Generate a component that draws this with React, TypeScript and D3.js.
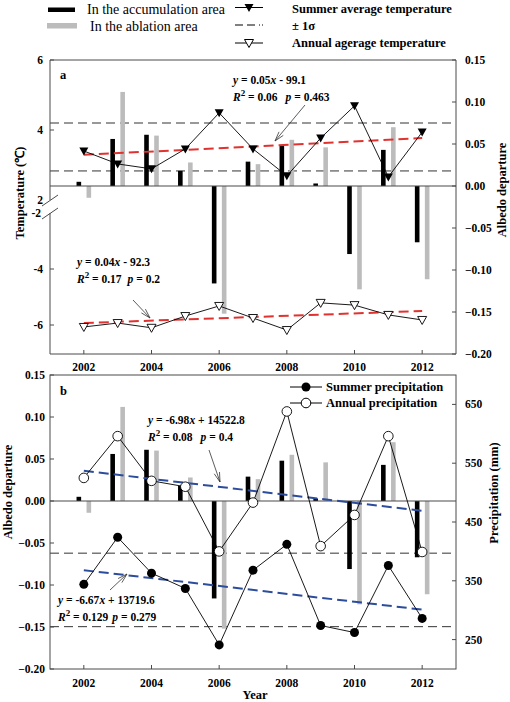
import React from "react";
import * as d3 from "d3";

// ---------------- data ----------------
const years = [2002, 2003, 2004, 2005, 2006, 2007, 2008, 2009, 2010, 2011, 2012];
const yearTicks = [2002, 2004, 2006, 2008, 2010, 2012];

// albedo departure (bars)
const accumAlbedo = [0.005, 0.056, 0.061, 0.018, -0.116, 0.029, 0.048, 0.003, -0.081, 0.043, -0.067];
const ablationAlbedo = [-0.014, 0.112, 0.06, 0.028, -0.152, 0.026, 0.055, 0.046, -0.123, 0.07, -0.111];

// temperature (panel a)
const summerTemp = [3.4, 3.03, 2.89, 3.46, 4.49, 3.46, 2.69, 3.77, 4.69, 2.66, 3.94];
const annualTemp = [-6.07, -5.93, -6.1, -5.68, -5.32, -5.75, -6.18, -5.21, -5.29, -5.64, -5.82];
const summerTempTrend = [3.29, 3.77];
const annualTempTrend = [-5.93, -5.5];
const summerTempSigma = [2.83, 4.2];

// precipitation (panel b)
const annualPrecip = [525, 596, 520, 510, 400, 483, 638, 409, 462, 596, 399];
const summerPrecip = [344, 424, 363, 337, 241, 368, 412, 274, 262, 376, 286];
const annualPrecipTrend = [537, 469];
const summerPrecipTrend = [368, 301];
const precipSigma = [272, 397];

// tick labels
const albedoTicks = [0.15, 0.1, 0.05, 0.0, -0.05, -0.1, -0.15, -0.2];
const tempUpperTicks = [6, 4];
const tempLowerTicks = [-4, -6];
const precipTicks = [250, 350, 450, 550, 650];

// ---------------- layout ----------------
const W = 510;
const H = 702;
const L = 50;
const R = 456;
const FONT = "'Liberation Serif', 'Times New Roman', serif";
const AXIS = "#4a4a4a";
const GREY = "#bcbcbc";
const RED = "#e0332f";
const BLUE = "#2c4c9c";

const x = d3.scaleLinear().domain([2001, 2013]).range([L, R]);

// panel a
const aTop = 60;
const aBot = 354;
const albA = d3.scaleLinear().domain([-0.2, 0.15]).range([aBot, aTop]);
const tUp = d3.scaleLinear().domain([2, 6]).range([200, aTop]);
const tLo = d3.scaleLinear().domain([-7, -2]).range([353, 213]);

// panel b
const bTop = 375;
const bBot = 669;
const albB = d3.scaleLinear().domain([-0.2, 0.15]).range([bBot, bTop]);
const prB = d3.scaleLinear().domain([200, 700]).range([bBot, bTop]);

function arrow(x1: number, y1: number, x2: number, y2: number) {
  const a = Math.atan2(y2 - y1, x2 - x1);
  const len = 10;
  const sp = 0.28;
  const b1x = x2 - len * Math.cos(a - sp);
  const b1y = y2 - len * Math.sin(a - sp);
  const b2x = x2 - len * Math.cos(a + sp);
  const b2y = y2 - len * Math.sin(a + sp);
  return `M${x1},${y1}L${x2},${y2}M${b1x},${b1y}L${x2},${y2}L${b2x},${b2y}`;
}

function downTri(cx: number, cy: number) {
  return `M${cx - 4.5},${cy - 3.5}L${cx + 4.5},${cy - 3.5}L${cx},${cy + 4.5}Z`;
}

const fmt2 = d3.format(".2f");

function Bars({ scale }: { scale: d3.ScaleLinear<number, number> }) {
  const z = scale(0);
  return (
    <g>
      {years.map((yr, i) => {
        const v = accumAlbedo[i];
        const y = scale(v);
        return <rect key={"k" + yr} x={x(yr) - 7.3} y={Math.min(y, z)} width={4.6} height={Math.abs(y - z)} fill="#000" />;
      })}
      {years.map((yr, i) => {
        const v = ablationAlbedo[i];
        const y = scale(v);
        return <rect key={"g" + yr} x={x(yr) + 2.7} y={Math.min(y, z)} width={4.6} height={Math.abs(y - z)} fill={GREY} />;
      })}
    </g>
  );
}

function Eq({ x0, y0, a, b, r2, p, gap }: { x0: number; y0: number; a: string; b: string; r2: string; p: string; gap: number }) {
  return (
    <g fontFamily={FONT} fontWeight="bold" fontSize={11.5} fill="#000">
      <text x={x0} y={y0}>
        <tspan fontStyle="italic">y</tspan>
        {` = ${a}`}
        <tspan fontStyle="italic">x</tspan>
        {` ${b}`}
      </text>
      <text x={x0} y={y0 + 17}>
        <tspan fontStyle="italic">R</tspan>
        <tspan dy={-5} fontSize={9}>2</tspan>
        <tspan dy={5}>{` = ${r2}`}</tspan>
        <tspan dx={gap} fontStyle="italic">p</tspan>
        <tspan>{` = ${p}`}</tspan>
      </text>
    </g>
  );
}

function YearAxis({ y0, labelY }: { y0: number; labelY: number }) {
  return (
    <g>
      {yearTicks.map((t) => (
        <g key={t}>
          <line x1={x(t)} x2={x(t)} y1={y0} y2={y0 - 4} stroke={AXIS} />
          <text x={x(t)} y={labelY} textAnchor="middle" fontFamily={FONT} fontWeight="bold" fontSize={11.5}>
            {t}
          </text>
        </g>
      ))}
    </g>
  );
}

export default function App() {
  const lineA = d3.line<number>().x((_, i) => x(years[i])).y((d) => tUp(d));
  const lineALo = d3.line<number>().x((_, i) => x(years[i])).y((d) => tLo(d));
  const lineP = d3.line<number>().x((_, i) => x(years[i])).y((d) => prB(d));
  const x0 = years[0];
  const x1 = years[years.length - 1];

  return (
    <svg width={W} height={H} style={{ position: "absolute", left: 0, top: 0, background: "#fff" }} fontFamily={FONT}>
      <rect x={0} y={0} width={W} height={H} fill="#fff" />

      {/* ---------- top legend ---------- */}
      <rect x={48} y={7.5} width={27} height={4.5} fill="#000" />
      <rect x={47} y={23} width={30} height={5.5} fill={GREY} />
      <text x={87} y={14} fontSize={14}>In the accumulation area</text>
      <text x={90} y={31} fontSize={14}>In the ablation area</text>
      <line x1={235} x2={263} y1={7.5} y2={7.5} stroke="#000" />
      <path d={downTri(249, 7.5)} fill="#000" />
      <line x1={235} x2={263} y1={25} y2={25} stroke="#000" strokeDasharray="8,4,8,4,1,2" />
      <line x1={235} x2={263} y1={43} y2={43} stroke="#000" />
      <path d={downTri(249, 43)} fill="#fff" stroke="#000" />
      <g fontWeight="bold" fontSize={12.5}>
        <text x={292} y={13}>Summer average temperature</text>
        <text x={292} y={30}>± 1σ</text>
        <text x={292} y={47}>Annual agerage temperature</text>
      </g>

      {/* ---------- panel a ---------- */}
      {summerTempSigma.map((s) => (
        <line key={s} x1={L} x2={R} y1={tUp(s)} y2={tUp(s)} stroke="#333" strokeDasharray="9,5" />
      ))}
      <Bars scale={albA} />
      <line x1={L} x2={R} y1={albA(0)} y2={albA(0)} stroke={AXIS} strokeWidth={1.2} />
      <line x1={x(x0)} x2={x(x1)} y1={tUp(summerTempTrend[0])} y2={tUp(summerTempTrend[1])} stroke={RED} strokeWidth={2} strokeDasharray="10,5" />
      <line x1={x(x0)} x2={x(x1)} y1={tLo(annualTempTrend[0])} y2={tLo(annualTempTrend[1])} stroke={RED} strokeWidth={2} strokeDasharray="10,5" />
      <path d={lineA(summerTemp) || ""} fill="none" stroke="#000" strokeWidth={0.9} />
      {summerTemp.map((t, i) => (
        <path key={i} d={downTri(x(years[i]), tUp(t))} fill="#000" />
      ))}
      <path d={lineALo(annualTemp) || ""} fill="none" stroke="#000" strokeWidth={0.9} />
      {annualTemp.map((t, i) => (
        <path key={i} d={downTri(x(years[i]), tLo(t))} fill="#fff" stroke="#000" strokeWidth={0.9} />
      ))}

      {/* frame a */}
      <line x1={L} x2={R} y1={aTop} y2={aTop} stroke={AXIS} />
      <line x1={L} x2={R} y1={aBot} y2={aBot} stroke={AXIS} />
      <line x1={R} x2={R} y1={aTop} y2={aBot} stroke={AXIS} />
      <line x1={L} x2={L} y1={aTop} y2={tUp(2)} stroke={AXIS} />
      <line x1={L} x2={L} y1={tLo(-2)} y2={aBot} stroke={AXIS} />
      <line x1={42} x2={58} y1={tUp(2) + 6} y2={tUp(2) - 5} stroke={AXIS} />
      <line x1={42} x2={58} y1={tLo(-2) + 6} y2={tLo(-2) - 5} stroke={AXIS} />
      <g fontWeight="bold" fontSize={11.5}>
        {tempUpperTicks.map((t) => (
          <g key={t}>
            <line x1={L} x2={L + 4} y1={tUp(t)} y2={tUp(t)} stroke={AXIS} />
            <text x={43} y={tUp(t) + 4} textAnchor="end">{t}</text>
          </g>
        ))}
        <text x={43} y={tUp(2) + 4} textAnchor="end">2</text>
        <text x={41} y={tLo(-2) + 4} textAnchor="end">-2</text>
        {tempLowerTicks.map((t) => (
          <g key={t}>
            <line x1={L} x2={L + 4} y1={tLo(t)} y2={tLo(t)} stroke={AXIS} />
            <text x={43} y={tLo(t) + 4} textAnchor="end">{t}</text>
          </g>
        ))}
        {albedoTicks.map((t) => (
          <g key={t}>
            <line x1={R} x2={R - 4} y1={albA(t)} y2={albA(t)} stroke={AXIS} />
            <text x={465} y={albA(t) + 4}>{fmt2(t)}</text>
          </g>
        ))}
      </g>
      <YearAxis y0={aBot} labelY={371} />
      <text x={60} y={79} fontWeight="bold" fontSize={12.5}>a</text>
      <Eq x0={233} y0={84} a="0.05" b="- 99.1" r2="0.06" p="0.463" gap={8} />
      <path d={arrow(305, 105, 275, 141)} fill="none" stroke="#333" strokeWidth={0.8} />
      <Eq x0={77} y0={266} a="0.04" b="- 92.3" r2="0.17" p="0.2" gap={6} />
      <path d={arrow(133, 300, 150, 318)} fill="none" stroke="#333" strokeWidth={0.8} />
      <text transform={`translate(24,193) rotate(-90)`} textAnchor="middle" fontWeight="bold" fontSize={12.5}>
        Temperature (℃)
      </text>
      <text transform={`translate(506,190) rotate(-90)`} textAnchor="middle" fontWeight="bold" fontSize={12.5}>
        Albedo departure
      </text>

      {/* ---------- panel b ---------- */}
      {precipSigma.map((s) => (
        <line key={s} x1={L} x2={R} y1={prB(s)} y2={prB(s)} stroke="#333" strokeDasharray="9,5" />
      ))}
      <Bars scale={albB} />
      <line x1={L} x2={R} y1={albB(0)} y2={albB(0)} stroke={AXIS} strokeWidth={1.2} />
      <line x1={x(x0)} x2={x(x1)} y1={prB(annualPrecipTrend[0])} y2={prB(annualPrecipTrend[1])} stroke={BLUE} strokeWidth={2} strokeDasharray="10,5" />
      <line x1={x(x0)} x2={x(x1)} y1={prB(summerPrecipTrend[0])} y2={prB(summerPrecipTrend[1])} stroke={BLUE} strokeWidth={2} strokeDasharray="10,5" />
      <path d={lineP(annualPrecip) || ""} fill="none" stroke="#000" strokeWidth={0.9} />
      <path d={lineP(summerPrecip) || ""} fill="none" stroke="#000" strokeWidth={0.9} />
      {summerPrecip.map((p, i) => (
        <circle key={"s" + i} cx={x(years[i])} cy={prB(p)} r={4.5} fill="#000" />
      ))}
      {annualPrecip.map((p, i) => (
        <circle key={"a" + i} cx={x(years[i])} cy={prB(p)} r={4.8} fill="#fff" stroke="#000" strokeWidth={0.9} />
      ))}

      <rect x={L} y={bTop} width={R - L} height={bBot - bTop} fill="none" stroke={AXIS} />
      <g fontWeight="bold" fontSize={11.5}>
        {albedoTicks.map((t) => (
          <g key={t}>
            <line x1={L} x2={L + 4} y1={albB(t)} y2={albB(t)} stroke={AXIS} />
            <text x={45} y={albB(t) + 4} textAnchor="end">{fmt2(t)}</text>
          </g>
        ))}
        {precipTicks.map((t) => (
          <g key={t}>
            <line x1={R} x2={R - 4} y1={prB(t)} y2={prB(t)} stroke={AXIS} />
            <text x={465} y={prB(t) + 4}>{t}</text>
          </g>
        ))}
      </g>
      <YearAxis y0={bBot} labelY={687} />
      <text x={255} y={699} textAnchor="middle" fontWeight="bold" fontSize={12.5}>Year</text>
      <text x={60} y={395} fontWeight="bold" fontSize={12.5}>b</text>

      {/* legend b */}
      <line x1={290} x2={322} y1={387} y2={387} stroke="#000" />
      <circle cx={306} cy={387} r={4.5} fill="#000" />
      <line x1={290} x2={322} y1={403} y2={403} stroke="#000" />
      <circle cx={306} cy={403} r={4.8} fill="#fff" stroke="#000" />
      <g fontWeight="bold" fontSize={12.5}>
        <text x={326} y={391}>Summer precipitation</text>
        <text x={326} y={407}>Annual precipitation</text>
      </g>

      <Eq x0={148} y0={424} a="-6.98" b="+ 14522.8" r2="0.08" p="0.4" gap={8} />
      <path d={arrow(209, 450, 220, 482)} fill="none" stroke="#333" strokeWidth={0.8} />
      <Eq x0={58} y0={604} a="-6.67" b="+ 13719.6" r2="0.129" p="0.279" gap={4} />
      <path d={arrow(110, 590, 127, 574)} fill="none" stroke="#333" strokeWidth={0.8} />

      <text transform={`translate(12,492) rotate(-90)`} textAnchor="middle" fontWeight="bold" fontSize={12.5}>
        Albedo departure
      </text>
      <text transform={`translate(498,493) rotate(-90)`} textAnchor="middle" fontWeight="bold" fontSize={12.5}>
        Precipitation (mm)
      </text>
    </svg>
  );
}
